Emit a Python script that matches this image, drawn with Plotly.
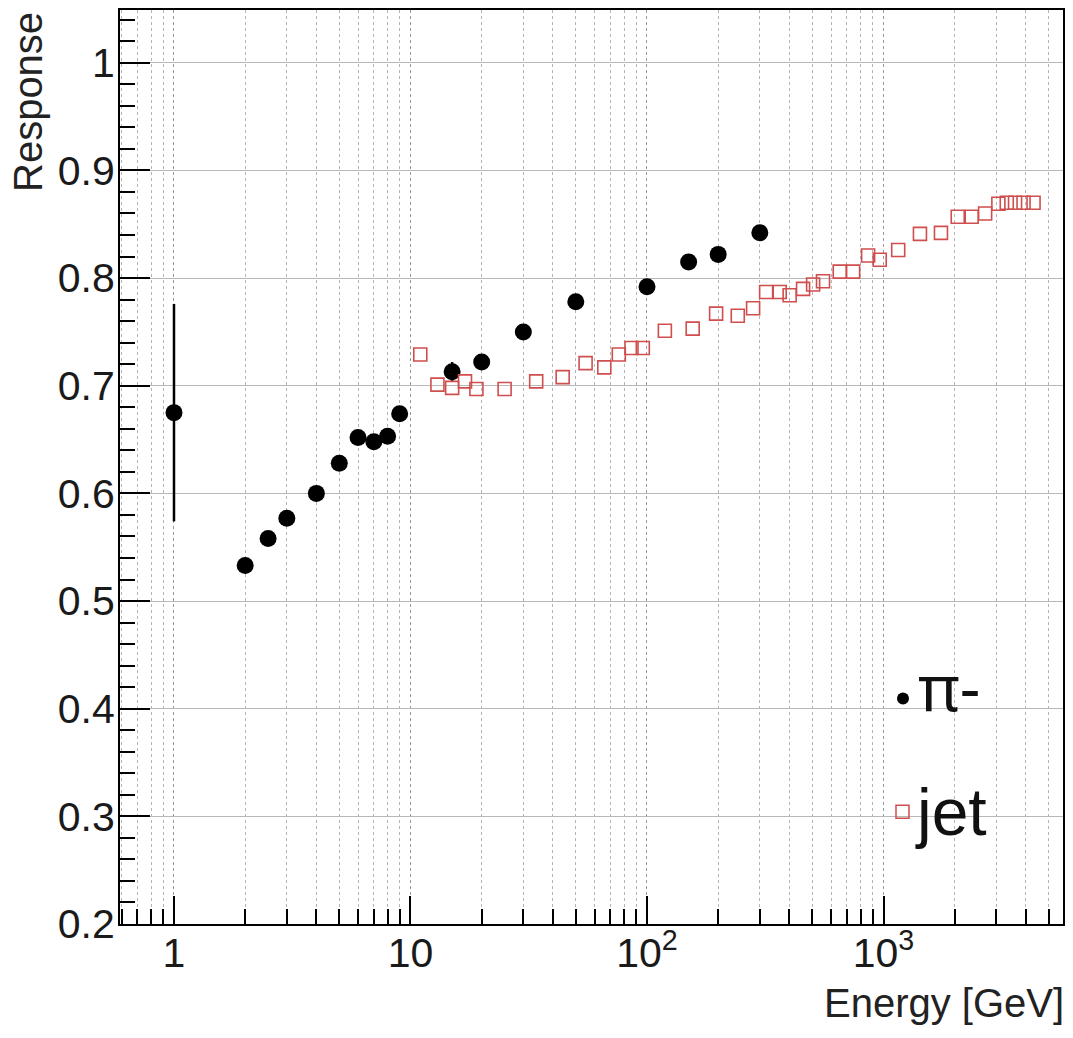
import numpy as np
import plotly.graph_objects as go

# ---- data -------------------------------------------------------------
# single pion (pi-) response vs beam energy
pion_energy = [1, 2, 2.5, 3, 4, 5, 6, 7, 8, 9, 15, 20, 30, 50, 100, 150, 200, 300]
pion_response = [0.675, 0.533, 0.558, 0.577, 0.600, 0.628, 0.652, 0.648, 0.653,
                 0.674, 0.713, 0.722, 0.750, 0.778, 0.792, 0.815, 0.822, 0.842]
pion_error = [0.101, 0.003, 0.003, 0.003, 0.003, 0.003, 0.003, 0.003, 0.003,
              0.003, 0.009, 0.003, 0.003, 0.003, 0.003, 0.003, 0.003, 0.003]

# jet response vs jet energy
jet_energy = [11, 13, 15, 17, 19, 25, 34, 44, 55, 66, 76, 86, 96, 119, 156, 196,
              242, 281, 319, 364, 401, 457, 504, 555, 653, 744, 861, 964, 1154,
              1426, 1750, 2060, 2360, 2690, 3060, 3320, 3600, 3910, 4310]
jet_response = [0.729, 0.701, 0.698, 0.704, 0.697, 0.697, 0.704, 0.708, 0.721,
                0.717, 0.729, 0.735, 0.735, 0.751, 0.753, 0.767, 0.765, 0.772,
                0.787, 0.787, 0.784, 0.790, 0.794, 0.797, 0.806, 0.806, 0.821,
                0.817, 0.826, 0.841, 0.842, 0.857, 0.857, 0.860, 0.869, 0.870,
                0.870, 0.870, 0.870]

x_major = [1, 10, 100, 1000]
x_major_text = ["1", "10", "10<sup>2</sup>", "10<sup>3</sup>"]
x_minor = [d * 10.0 ** k for k in range(-1, 4) for d in range(2, 10)]
y_ticks = [0.2, 0.3, 0.4, 0.5, 0.6, 0.7, 0.8, 0.9, 1.0]
y_tick_text = ["0.2", "0.3", "0.4", "0.5", "0.6", "0.7", "0.8", "0.9", "1"]

legend_labels = ["\u03c0-", "jet"]

# ---- layout geometry (pixels) ----------------------------------------
W, H = 1073, 1038
L, R, T, B = 120, 10, 8, 114
PW, PH = W - L - R, H - T - B


def px(xp):
    return (xp - L) / PW


def py(yp):
    return (H - B - yp) / PH


FONT = "Liberation Sans, Arial, sans-serif"
LEGEND_FONT = "Noto Sans, DejaVu Sans, sans-serif"
JET_RED = "rgb(208,78,78)"

fig = go.Figure()

fig.add_trace(go.Scatter(
    x=pion_energy, y=pion_response, mode="markers", name=legend_labels[0],
    marker=dict(symbol="circle", size=17, color="black"),
    error_y=dict(type="data", array=pion_error, color="black",
                 thickness=2.5, width=0),
    showlegend=False,
))

fig.add_trace(go.Scatter(
    x=jet_energy, y=jet_response, mode="markers", name=legend_labels[1],
    marker=dict(symbol="square-open", size=13,
                line=dict(color=JET_RED, width=1.6), color=JET_RED),
    showlegend=False,
))

fig.update_layout(
    width=W, height=H,
    margin=dict(l=L, r=R, t=T, b=B),
    paper_bgcolor="white", plot_bgcolor="white",
    font=dict(family=FONT, color="#1a1a1a"),
    xaxis=dict(
        type="log", range=[-0.2283, 3.759],
        tickmode="array", tickvals=x_major, ticktext=x_major_text,
        ticks="inside", ticklen=28, tickwidth=2, tickcolor="black",
        tickfont=dict(size=41, family=FONT, color="#1a1a1a"),
        ticklabelstandoff=-8,
        showline=True, linecolor="black", linewidth=2, mirror=True,
        showgrid=True, gridcolor="#9a9a9a", gridwidth=1, griddash="dot",
        zeroline=False,
        minor=dict(tickmode="array", tickvals=x_minor, ticks="inside",
                   ticklen=15, tickwidth=1.5, tickcolor="black",
                   showgrid=True, gridcolor="#b4b4b4", gridwidth=1,
                   griddash="dot"),
    ),
    yaxis=dict(
        range=[0.2, 1.049],
        tickmode="array", tickvals=y_ticks, ticktext=y_tick_text,
        ticks="inside", ticklen=30, tickwidth=2, tickcolor="black",
        tickfont=dict(size=41, family=FONT, color="#1a1a1a"),
        ticklabelstandoff=-5,
        showline=True, linecolor="black", linewidth=2, mirror=True,
        showgrid=True, gridcolor="#b8b8b8", gridwidth=1.2,
        zeroline=False,
        minor=dict(dtick=0.02, tick0=0.2, ticks="inside", ticklen=15,
                   tickwidth=1.5, tickcolor="black", showgrid=False),
    ),
)

# axis titles, ROOT style (right-aligned x, top-aligned y)
fig.add_annotation(text="Energy [GeV]", xref="paper", yref="paper",
                   x=px(1066), y=py(1003), xanchor="right", yanchor="middle",
                   showarrow=False, font=dict(size=40, family=FONT, color="#222"))
fig.add_annotation(text="Response", xref="paper", yref="paper",
                   x=px(28), y=py(8), xanchor="center", yanchor="top",
                   textangle=-90, showarrow=False,
                   font=dict(size=40, family=FONT, color="#222"))

# legend entries
fig.add_shape(type="circle", xref="paper", yref="paper",
              x0=px(897), x1=px(909), y0=py(704), y1=py(692),
              fillcolor="black", line=dict(color="black", width=0))
fig.add_annotation(text=legend_labels[0], xref="paper", yref="paper",
                   x=px(916), y=py(686), xanchor="left", yanchor="middle",
                   showarrow=False,
                   font=dict(size=64, family=LEGEND_FONT, color="#111"))
fig.add_shape(type="rect", xref="paper", yref="paper",
              x0=px(896), x1=px(909), y0=py(818), y1=py(805),
              fillcolor="rgba(0,0,0,0)", line=dict(color=JET_RED, width=1.5))
fig.add_annotation(text=legend_labels[1], xref="paper", yref="paper",
                   x=px(913), y=py(812), xanchor="left", yanchor="middle",
                   showarrow=False, font=dict(size=66, family=FONT, color="#111"))

fig.write_html("out.html")
